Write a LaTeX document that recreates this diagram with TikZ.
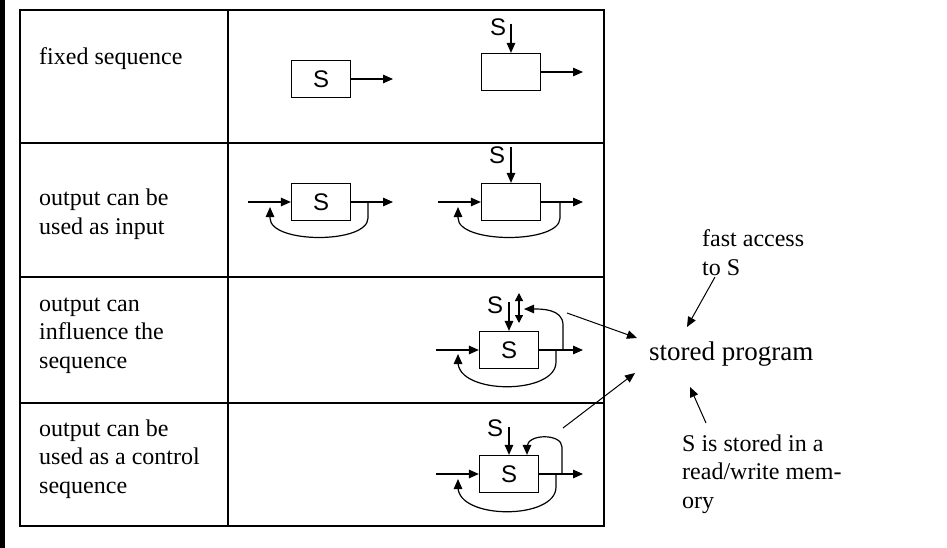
\documentclass[tikz,border=0pt]{standalone}
\usepackage{fontspec}
\setmainfont{Liberation Serif}
\setsansfont{Liberation Sans}
\usetikzlibrary{arrows.meta}

\tikzset{
  blk/.style={draw, line width=1.2pt, minimum width=59pt, minimum height=37pt, inner sep=0pt, font=\sffamily\fontsize{24}{24}\selectfont},
  slbl/.style={inner sep=0pt, font=\sffamily\fontsize{24}{24}\selectfont},
  txt/.style={anchor=base west, align=left, inner sep=0pt, font=\fontsize{24}{28.5}\selectfont},
  wire/.style={line width=1.2pt},
  arr/.style={wire, -{Triangle[length=10pt,width=8.5pt]}},
  tbl/.style={line width=1.6pt},
}

\begin{document}
\begin{tikzpicture}[x=1pt,y=-1pt]
\useasboundingbox (0,0) rectangle (947,548);
\fill (0,0) rectangle (5,548);

% table
\draw[tbl] (20,10) rectangle (604,526);
\draw[tbl] (228,10) -- (228,526);
\draw[tbl] (20,143) -- (604,143);
\draw[tbl] (20,277) -- (604,277);
\draw[tbl] (20,403) -- (604,403);

% base of a multi-line node sits below its last line
\node[txt] (fixed) at (39,65) {fixed sequence};
\node[txt] (asinput) at (39,234) {output can be\\used as input};
\node[txt] (influence) at (39,368) {output can\\influence the\\sequence};
\node[txt] (control) at (39,493) {output can be\\used as a control\\sequence};

% row 1
\node[blk] (fixa) at (321,79) {S};
\coordinate (fixaout) at (393,79);
\draw[arr] (fixa) -- (fixaout);
\node[blk] (fixb) at (511,72) {};
\node[slbl] (fixbs) at (498,27) {S};
\coordinate (fixbin) at (511,24);
\coordinate (fixbout) at (583,72);
\draw[arr] (fixbin) -- (fixb.north);
\draw[arr] (fixb) -- (fixbout);

% row 2
\node[blk] (inpa) at (321,202) {S};
\coordinate (inpain) at (248,202);
\coordinate (inpaout) at (393,202);
\coordinate (inpafb) at (368,202);
\coordinate (inpaup) at (270,207);
\draw[arr] (inpain) -- (inpa);
\draw[arr] (inpa) -- (inpaout);
\draw[arr] (inpafb) -- (368,218) .. controls +(0,26) and +(0,26) .. (270,218) -- (inpaup);
\node[blk] (inpb) at (511,202) {};
\node[slbl] (inpbs) at (497,155) {S};
\coordinate (inpbtop) at (511,147);
\coordinate (inpbin) at (438,202);
\coordinate (inpbout) at (583,202);
\coordinate (inpbfb) at (560,202);
\coordinate (inpbup) at (458,207);
\draw[arr] (inpbtop) -- (inpb.north);
\draw[arr] (inpbin) -- (inpb);
\draw[arr] (inpb) -- (inpbout);
\draw[arr] (inpbfb) -- (560,218) .. controls +(0,26) and +(0,26) .. (458,218) -- (inpbup);

% row 3
\node[blk] (infl) at (509,350) {S};
\node[slbl] (infls) at (495,305) {S};
\coordinate (infltop) at (509,302);
\coordinate (infldt) at (519,293);
\coordinate (infldb) at (519,323);
\coordinate (inflin) at (436,350);
\coordinate (inflout) at (583,350);
\coordinate (inflfb) at (556,350);
\coordinate (influp) at (458,354);
\coordinate (infltap) at (563,350);
\coordinate (inflback) at (524,309);
\draw[arr] (infltop) -- (infl.north);
\draw[wire, {Triangle[length=8pt,width=8pt]}-{Triangle[length=8pt,width=8pt]}] (infldt) -- (infldb);
\draw[arr] (inflin) -- (infl);
\draw[arr] (infl) -- (inflout);
\draw[arr] (inflfb) -- (556,362) .. controls +(0,33) and +(0,33) .. (458,362) -- (influp);
\draw[arr] (infltap) -- (563,325) to[out=90, in=0] (inflback);

% row 4
\node[blk] (ctrl) at (509,474) {S};
\node[slbl] (ctrls) at (495,428) {S};
\coordinate (ctrltop) at (509,427);
\coordinate (ctrlin) at (436,474);
\coordinate (ctrlout) at (583,474);
\coordinate (ctrlfb) at (556,474);
\coordinate (ctrlup) at (458,479);
\coordinate (ctrltap) at (562,474);
\draw[arr] (ctrltop) -- (ctrl.north);
\draw[arr] (ctrlin) -- (ctrl);
\draw[arr] (ctrl) -- (ctrlout);
\draw[arr] (ctrlfb) -- (556,487) .. controls +(0,33) and +(0,33) .. (458,487) -- (ctrlup);
\draw[arr] (ctrltap) -- (562,447) to[out=90, in=90] (527,447) -- (ctrl.north -| 527,0);

% right side
\node[txt] (fast) at (702,275) {fast access\\to S};
\node[txt, font=\fontsize{27}{32}\selectfont] (prog) at (649,360) {stored program};
\node[txt] (memory) at (682,508) {S is stored in a\\read/write mem-\\ory};
\coordinate (froma) at (567,313);
\coordinate (toa) at (637,338);
\coordinate (fromb) at (563,428);
\coordinate (tob) at (635,373);
\coordinate (fromc) at (715,277);
\coordinate (toc) at (687,327);
\coordinate (fromd) at (706,423);
\coordinate (tod) at (690,387);
\draw[arr, line width=1pt] (froma) -- (toa);
\draw[arr, line width=1pt] (fromb) -- (tob);
\draw[arr, line width=1pt] (fromc) -- (toc);
\draw[arr, line width=1pt] (fromd) -- (tod);
\end{tikzpicture}
\end{document}
